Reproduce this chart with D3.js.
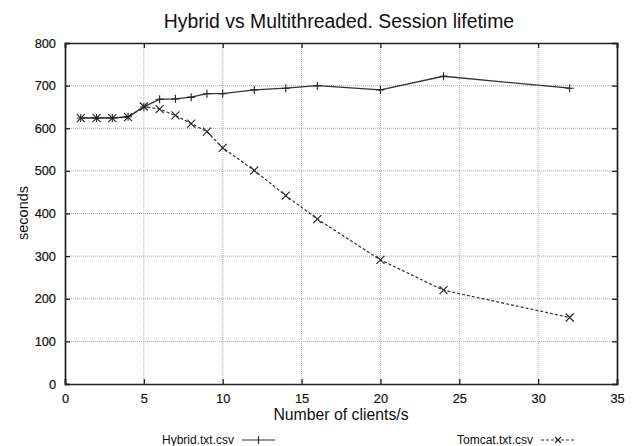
<!DOCTYPE html>
<html>
<head>
<meta charset="utf-8">
<script src="https://cdn.jsdelivr.net/npm/d3@7"></script>
<style>
  body { margin: 0; background: #fff; }
  svg text { font-family: "Liberation Sans", Arial, Helvetica, sans-serif; fill: #111; }
</style>
</head>
<body>
<svg id="chart" width="635" height="446"></svg>
<script>
const clients = [1, 2, 3, 4, 5, 6, 7, 8, 9, 10, 12, 14, 16, 20, 24, 32];
const hybridSeconds = [624, 624, 624, 627, 650, 668, 669, 673, 681, 681, 690, 694, 700, 690, 722, 694];
const tomcatSeconds = [624, 624, 624, 626, 651, 645, 630, 611, 592, 554, 501, 442, 387, 291, 220, 156];
const xTicks = [0, 5, 10, 15, 20, 25, 30, 35];
const yTicks = [0, 100, 200, 300, 400, 500, 600, 700, 800];

const margin = { top: 43, right: 18, bottom: 62, left: 65 };
const width = 635 - margin.left - margin.right;
const height = 446 - margin.top - margin.bottom;

const root = d3.select("#chart");

root.append("text")
  .attr("x", 339).attr("y", 28)
  .attr("text-anchor", "middle")
  .style("font-size", "19.4px")
  .text("Hybrid vs Multithreaded. Session lifetime");

const svg = root.append("g")
  .attr("transform", `translate(${margin.left}, ${margin.top})`);

const x = d3.scaleLinear().domain([0, 35]).range([0, width]);
const y = d3.scaleLinear().domain([0, 800]).range([height, 0]);

// dotted grid
svg.append("g")
  .selectAll("line")
  .data(xTicks.slice(1, -1))
  .enter().append("line")
  .attr("x1", d => x(d)).attr("x2", d => x(d))
  .attr("y1", 0).attr("y2", height)
  .attr("stroke", "#a8a8a8").attr("stroke-dasharray", "1,1");

svg.append("g")
  .selectAll("line")
  .data(yTicks.slice(1, -1))
  .enter().append("line")
  .attr("y1", d => y(d)).attr("y2", d => y(d))
  .attr("x1", 0).attr("x2", width)
  .attr("stroke", "#a8a8a8").attr("stroke-dasharray", "1,1");

// axes, ticks pointing inward on all four sides
const axisB = svg.append("g")
  .attr("transform", `translate(0, ${height})`)
  .call(d3.axisBottom(x).tickValues(xTicks).tickSize(-5).tickPadding(10));
const axisL = svg.append("g")
  .call(d3.axisLeft(y).tickValues(yTicks).tickSize(-5).tickPadding(9));
const axisT = svg.append("g")
  .call(d3.axisTop(x).tickValues(xTicks).tickSize(-5).tickFormat(""));
const axisR = svg.append("g")
  .attr("transform", `translate(${width}, 0)`)
  .call(d3.axisRight(y).tickValues(yTicks).tickSize(-5).tickFormat(""));

[axisB, axisL, axisT, axisR].forEach(g => {
  g.select(".domain").attr("stroke", "#222").attr("stroke-width", 1.7);
  g.selectAll(".tick line").attr("stroke", "#222").attr("stroke-width", 1.3);
  g.selectAll("text")
    .style("font-size", "12.8px")
    .style("font-family", "Liberation Sans, Arial, sans-serif")
    .attr("fill", "#111")
    .attr("stroke", "#111").attr("stroke-width", 0.2);
});

const line = d3.line().x(d => x(d[0])).y(d => y(d[1]));

const hybrid = clients.map((c, i) => [c, hybridSeconds[i]]);
const tomcat = clients.map((c, i) => [c, tomcatSeconds[i]]);

svg.append("path")
  .datum(tomcat)
  .attr("fill", "none")
  .attr("stroke", "#333")
  .attr("stroke-width", 1.2)
  .attr("stroke-dasharray", "3,2")
  .attr("d", line);

svg.append("path")
  .datum(hybrid)
  .attr("fill", "none")
  .attr("stroke", "#333")
  .attr("stroke-width", 1.3)
  .attr("d", line);

const m = 4;
svg.selectAll(".plus")
  .data(hybrid)
  .enter().append("path")
  .attr("class", "plus")
  .attr("d", d => `M${x(d[0]) - m},${y(d[1])}h${2 * m}M${x(d[0])},${y(d[1]) - m}v${2 * m}`)
  .attr("stroke", "#222").attr("stroke-width", 1.1);

svg.selectAll(".cross")
  .data(tomcat)
  .enter().append("path")
  .attr("class", "cross")
  .attr("d", d => `M${x(d[0]) - m},${y(d[1]) - m}l${2 * m},${2 * m}M${x(d[0]) - m},${y(d[1]) + m}l${2 * m},${-2 * m}`)
  .attr("stroke", "#222").attr("stroke-width", 1.1);

// axis labels
root.append("text")
  .attr("x", 341).attr("y", 420)
  .attr("text-anchor", "middle")
  .style("font-size", "15.8px")
  .text("Number of clients/s");

root.append("text")
  .attr("transform", "translate(28, 213) rotate(-90)")
  .attr("text-anchor", "middle")
  .style("font-size", "14.5px")
  .text("seconds");

// legend
const legend = root.append("g");
legend.append("text")
  .attr("x", 234).attr("y", 444)
  .attr("text-anchor", "end")
  .style("font-size", "12px")
  .text("Hybrid.txt.csv");
legend.append("line")
  .attr("x1", 242).attr("x2", 275).attr("y1", 440).attr("y2", 440)
  .attr("stroke", "#333").attr("stroke-width", 1.2);
legend.append("path")
  .attr("d", `M${258.5},${440 - m}v${2 * m}`)
  .attr("stroke", "#222").attr("stroke-width", 1.1);

legend.append("text")
  .attr("x", 533).attr("y", 444)
  .attr("text-anchor", "end")
  .style("font-size", "12px")
  .text("Tomcat.txt.csv");
legend.append("line")
  .attr("x1", 541).attr("x2", 575).attr("y1", 440).attr("y2", 440)
  .attr("stroke", "#333").attr("stroke-width", 1.1).attr("stroke-dasharray", "3,2");
legend.append("path")
  .attr("d", `M${558 - 3},${440 - 3}l6,6M${558 - 3},${440 + 3}l6,-6`)
  .attr("stroke", "#222").attr("stroke-width", 1.1);
</script>
</body>
</html>
